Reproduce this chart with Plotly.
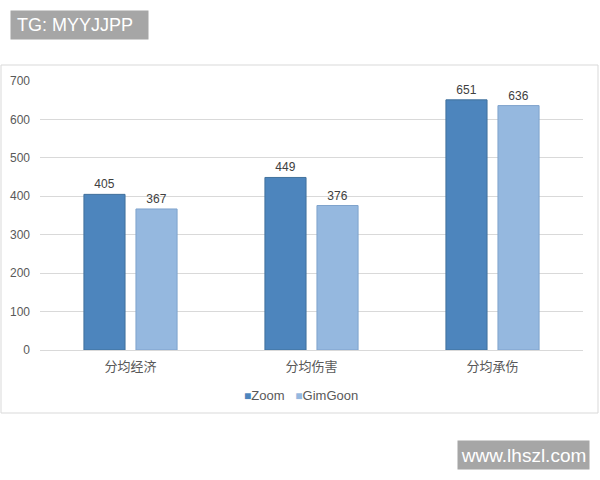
import plotly.graph_objects as go

# data
categories = ["分均经济", "分均伤害", "分均承伤"]
series_names = ["Zoom", "GimGoon"]
zoom_vals = [405, 449, 651]
gimgoon_vals = [367, 376, 636]
y_ticks = [0, 100, 200, 300, 400, 500, 600, 700]

W, H = 600, 480
FONT = "Liberation Sans, Noto Sans CJK SC, sans-serif"
COLORS = ["#4D85BD", "#95B8DF"]
EDGES = ["#41719C", "#7FA3CC"]


def px_x(x):
    return x / W


def px_y(y):
    return 1 - y / H


fig = go.Figure()
for name, vals, col, edge in zip(series_names, [zoom_vals, gimgoon_vals], COLORS, EDGES):
    fig.add_trace(go.Bar(
        x=categories, y=vals, name=name,
        marker=dict(color=col, line=dict(color=edge, width=1)),
        text=vals, textposition="outside",
        textfont=dict(color="#404040", size=12),
        cliponaxis=False,
    ))

fig.update_layout(
    width=W, height=H,
    margin=dict(l=0, r=0, t=0, b=0, pad=0, autoexpand=False),
    paper_bgcolor="white", plot_bgcolor="white",
    font=dict(family=FONT, color="#595959", size=12),
    barmode="group", bargap=0.425, bargroupgap=0.21,
    showlegend=False,
    xaxis=dict(domain=[px_x(40), px_x(583)], showgrid=False, automargin=False,
               showline=True, linecolor="#D9D9D9", ticks="",
               ticklabelstandoff=4,
               tickfont=dict(size=13, color="#595959")),
    yaxis=dict(domain=[px_y(350), px_y(81)], range=[0, 700], automargin=False,
               tickvals=y_ticks, showgrid=True, gridcolor="#D9D9D9",
               zeroline=False, showline=False, ticks="",
               ticklabelstandoff=9,
               tickfont=dict(size=12, color="#595959")),
    shapes=[dict(type="rect", xref="paper", yref="paper",
                 x0=px_x(1), x1=px_x(598), y0=px_y(65), y1=px_y(413),
                 line=dict(color="#D9D9D9", width=1), layer="below")],
)

# legend, drawn the Excel way: small square right before each name
legend_text = "&nbsp;&nbsp;&nbsp;".join(
    f"<span style='color:{c};font-size:12px'>■</span>{n}" for n, c in zip(series_names, COLORS)
)
fig.add_annotation(text=legend_text, xref="paper", yref="paper",
                   x=px_x(301), y=px_y(395), xanchor="center", yanchor="middle",
                   showarrow=False, font=dict(size=13, color="#595959"))

# watermark boxes
fig.add_annotation(text="&nbsp;TG: MYYJJPP", xref="paper", yref="paper",
                   x=px_x(10), y=px_y(10), xanchor="left", yanchor="top",
                   width=135, height=26, align="left", showarrow=False,
                   bgcolor="#A6A6A6", font=dict(color="white", size=18))
fig.add_annotation(text="www.lhszl.com", xref="paper", yref="paper",
                   x=px_x(457), y=px_y(440), xanchor="left", yanchor="top",
                   width=129, height=26, showarrow=False,
                   bgcolor="#A6A6A6", font=dict(color="white", size=19))

# drop the default body margin so the 600x480 figure fills the window
fig.write_html("out.html", post_script="document.body.style.margin='0';",
               config={"displayModeBar": False})
